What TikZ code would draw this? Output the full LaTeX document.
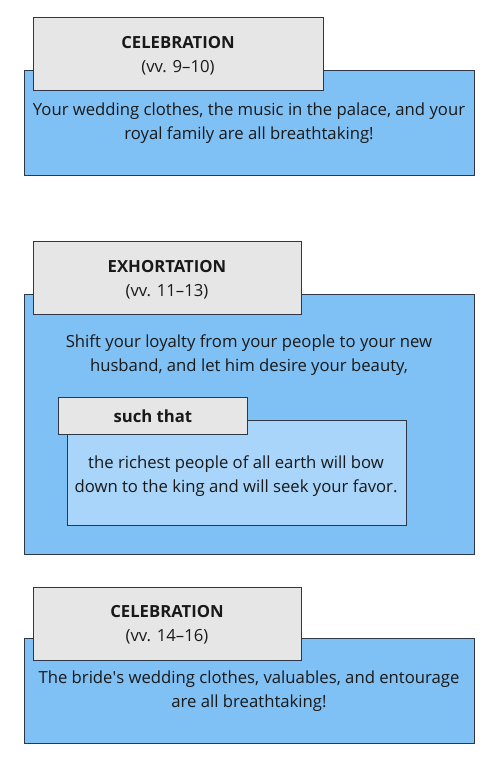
\documentclass[tikz,border=0pt]{standalone}
\usepackage{fontspec}
\setmainfont{Open Sans}
\definecolor{panelblue}{RGB}{128,193,245}
\definecolor{innerblue}{RGB}{168,213,249}
\definecolor{headgray}{RGB}{230,230,230}
\definecolor{edgegray}{RGB}{45,55,70}
\begin{document}
\begin{tikzpicture}[x=1pt,y=-1pt,
    panel/.style={draw=edgegray,fill=panelblue,line width=0.8pt,anchor=north west,inner sep=0pt},
    subpanel/.style={panel,fill=innerblue},
    headbox/.style={draw=edgegray,fill=headgray,line width=0.8pt,anchor=north west,inner sep=0pt},
    label/.style={font=\fontsize{16.7}{23.5}\selectfont,align=center,text=black!90,inner sep=0pt},
    headlabel/.style={label,font=\fontsize{16.7}{23.5}\selectfont\bfseries}]
\useasboundingbox (0,0) rectangle (500,762);
% first section
\node[panel,minimum width=450,minimum height=105] (body1) at (24,70) {};
\node[headbox,minimum width=290,minimum height=73] (head1) at (33,17) {};
\node[label] (title1) at (178,56) {\textbf{CELEBRATION}\\(vv. 9--10)};
\node[label] (text1) at (249,123) {Your wedding clothes, the music in the palace, and your\\royal family are all breathtaking!};
% second section
\node[panel,minimum width=450,minimum height=260] (body2) at (24,294) {};
\node[headbox,minimum width=268,minimum height=73] (head2) at (33,241) {};
\node[label] (title2) at (167,280) {\textbf{EXHORTATION}\\(vv. 11--13)};
\node[label] (text2) at (249,355) {Shift your loyalty from your people to your new\\husband, and let him desire your beauty,};
\node[subpanel,minimum width=339,minimum height=105] (inner) at (67,420) {};
\node[headbox,minimum width=189,minimum height=37] (such) at (58,397) {};
\node[headlabel] (suchtext) at (such.center) {such that};
\node[label] (text3) at (236,476) {the richest people of all earth will bow\\down to the king and will seek your favor.};
% third section
\node[panel,minimum width=450,minimum height=105] (body3) at (24,638) {};
\node[headbox,minimum width=268,minimum height=73] (head3) at (33,587) {};
\node[label] (title3) at (167,625) {\textbf{CELEBRATION}\\(vv. 14--16)};
\node[label] (text4) at (249,691) {The bride\textquotesingle s wedding clothes, valuables, and entourage\\are all breathtaking!};
\end{tikzpicture}
\end{document}
